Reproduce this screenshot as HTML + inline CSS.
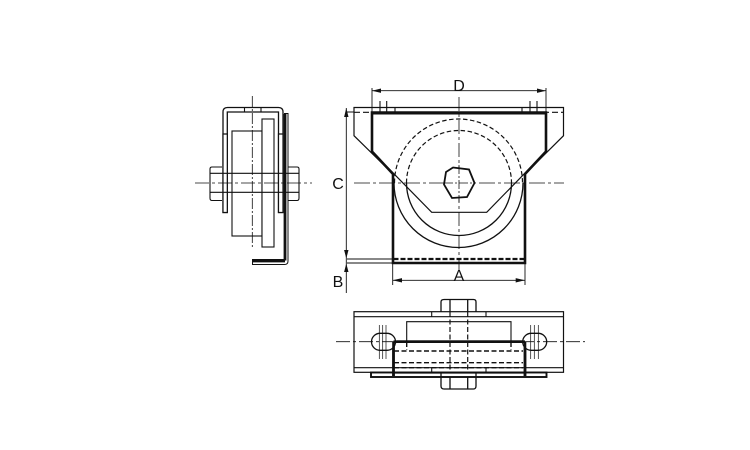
<!DOCTYPE html>
<html><head><meta charset="utf-8"><style>
html,body{margin:0;padding:0;background:#fff;width:750px;height:450px;overflow:hidden}
svg{display:block}
text{font-family:"Liberation Sans",sans-serif;font-size:16px;fill:#111}
</style></head><body>
<svg width="750" height="450" viewBox="0 0 750 450" fill="none" stroke="#111" stroke-width="1.100">
<!-- LEFT VIEW -->
<g>
<path d="M223 212.500V112Q223 107.500 227.500 107.500H278.500Q283 107.500 283 112V212.500H278.500V112H227.300V212.500Z" stroke-width="1.300"/>
<path d="M223 134H227.300M278.500 134H283M244.500 107.500V112M261 107.500V112"/>
<rect x="232" y="131" width="30" height="105" fill="#fff"/>
<rect x="262" y="119" width="12" height="128" fill="#fff"/>
<path d="M284.500 113.500H288V261Q288 264.500 284.500 264.500H252.500V259.500H284.500Z" fill="#fff" stroke-width="1"/>
<path d="M285 114V260.500M253 261H285" stroke-width="2.800"/>
<path d="M223 212.500V134H227.300V212.500Z" fill="#fff" stroke-width="1.200"/>
<path d="M278.500 212.500V134H283V212.500Z" fill="#fff" stroke-width="1.200"/>
<path d="M222 167H212Q210 167 210 169V198Q210 200.500 212 200.500H222"/>
<path d="M288 167H297Q299 167 299 169V198Q299 200.500 297 200.500H288"/>
<path d="M210 173.300H299M210 192.300H299" stroke-width="1.200"/>
<path d="M252.300 96V247" stroke-dasharray="11 2 2 2" stroke-width="0.800"/>
<path d="M195 183H312" stroke-dasharray="14 3 3 3" stroke-width="0.800"/>
</g>
<!-- FRONT VIEW -->
<g>
<path d="M393 174L354 135.700V107.500H563.500V135.700L525 174" stroke-width="1.200"/>
<path d="M354 112.300H563.500" stroke-dasharray="6 3"/>
<path d="M395 107.500V112.300M522 107.500V112.300M380 101V112M386.700 101V112M530 101V112M537 101V112"/>
<path d="M394 183A64 64 0 0 0 523 183M406.500 183A52.500 52.500 0 0 0 511.500 183" stroke-width="1.300"/>
<path d="M394.500 183A64 64 0 0 1 522.500 183M406.500 183A52.500 52.500 0 0 1 511.500 183" stroke-width="1.200" stroke-dasharray="4.500 2.500"/>
<path d="M372 151.500L431.700 212.300H486.700L546 151.500" stroke-width="1.200"/>
<path d="M372 112.500V151.500L393 174V263H525V174L546 151.500V112.500Z" stroke-width="2.600"/>
<path d="M372 113H546" stroke-width="3"/>
<path d="M393.500 259H524.500" stroke-width="2.200" stroke-dasharray="5 2"/>
<path d="M459 97V270" stroke-dasharray="14 3 3 3" stroke-width="0.800"/>
<path d="M354 183H564" stroke-dasharray="16 3 3 3" stroke-width="0.800"/>
<path d="M453 167.500L469 169.500L474.500 183L467 197L452 198L444 184.500L446 172Z" fill="#fff" stroke-width="1.800"/>
<path d="M459 165V202" stroke-dasharray="9 2 2 2" stroke-width="0.800"/>
<path d="M444 183H474" stroke-width="0.800" stroke-dasharray="9 2 2 2"/>
<!-- dimensions -->
<path d="M372 88V112M546 88V112M372 90.700H546M392.700 263V285M525 263V285M392.700 280.300H525M346.300 108V293M347 259H392M347 263H392M346 112H354" stroke-width="0.900"/>
<g fill="#111" stroke="none">
<path d="M372 90.700L381 88.500V92.900Z"/><path d="M546 90.700L537 88.500V92.900Z"/>
<path d="M392.700 280.300L402 278.100V282.500Z"/><path d="M525 280.300L515.700 278.100V282.500Z"/>
<path d="M346.300 108L344.100 117H348.500Z"/><path d="M346.300 258.500L344.100 250H348.500Z"/><path d="M346.300 263.500L344.100 272H348.500Z"/>
</g>
<text x="459" y="91" text-anchor="middle" stroke="none">D</text>
<text x="459" y="281" text-anchor="middle" stroke="none">A</text>
<text x="338" y="189" text-anchor="middle" stroke="none">C</text>
<text x="338" y="287" text-anchor="middle" stroke="none">B</text>
</g>
<!-- BOTTOM VIEW -->
<g>
<rect x="354" y="311.700" width="209.500" height="60.600" stroke-width="1.200"/>
<path d="M354 316.700H563.500M354 367.700H563.500M431.700 311.700V316.700M486 311.700V316.700M431.700 367.700V372.300M486 367.700V372.300"/>
<path d="M450 312V299.500M467.700 312V299.500M444 299.500H473.500Q476 299.500 476 302V311.700M441 311.700V302Q441 299.500 444 299.500" stroke-width="1.300"/>
<path d="M441 372.500V386Q441 389 444 389H473.500Q476 389 476 386V372.500M450 377V389M467.700 377V389" stroke-width="1.300"/>
<path d="M406.700 341.700V321.700H511V341.700"/>
<path d="M406.700 342V350M511 342V350M394 351H523M394 362.700H523M394 367.700H523" stroke-dasharray="5 2.500" stroke-width="1.400"/>
<path d="M450 312V372M467.700 312V372" stroke-dasharray="5 2.500" stroke-width="1.200"/>
<rect x="371" y="372.500" width="175.500" height="4.500" stroke-width="1.900"/>
<path d="M393.500 376V345Q393.500 341.700 397 341.700H521.500Q525 341.700 525 345V376" stroke-width="2.600"/>
<path d="M393 373H525" stroke-width="1.200"/>
<rect x="371.500" y="333.300" width="24" height="17" rx="8.500" fill="#fff" stroke-width="1.300"/>
<rect x="522.700" y="333.300" width="24" height="17" rx="8.500" fill="#fff" stroke-width="1.300"/>
<path d="M393.500 342V376M525 342V376" stroke-width="2.600"/>
<path d="M393.500 341.700H525" stroke-width="2.600"/>
<path d="M379.300 325V359M382.700 325V359M386 325V359M530.700 325V359M534.300 325V359M538.300 325V359" stroke-width="0.700"/>
<path d="M336 341.700H585" stroke-dasharray="14 3 3 3" stroke-width="0.800"/>
</g>
</svg>
</body></html>
